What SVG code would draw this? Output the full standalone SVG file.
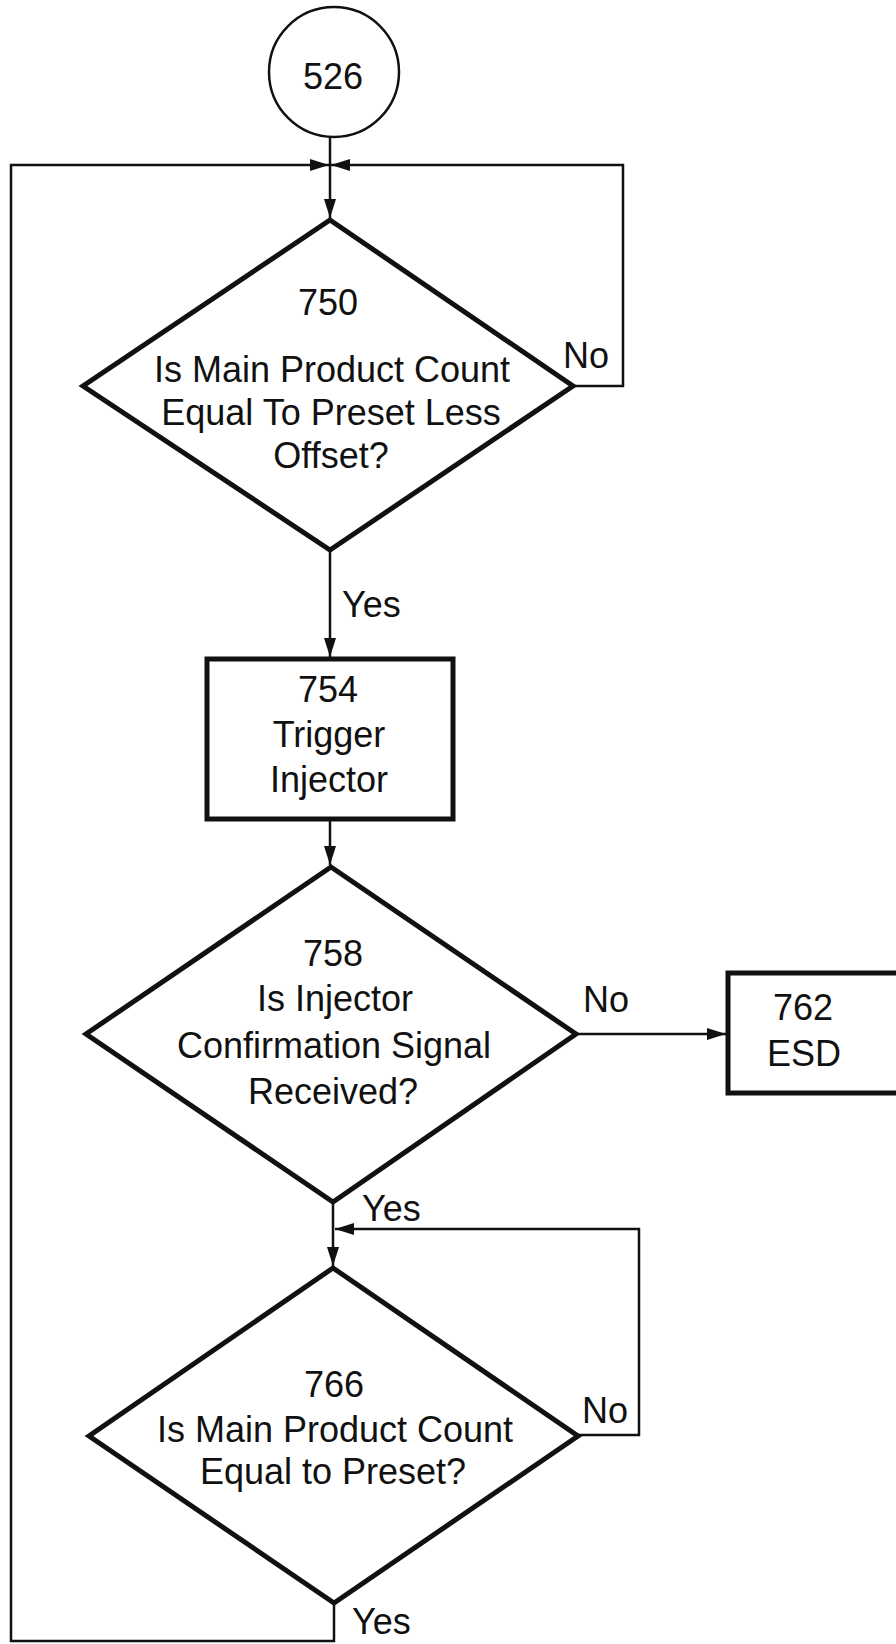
<svg xmlns="http://www.w3.org/2000/svg" width="896" height="1644" viewBox="0 0 896 1644">
  <style>
    .shape { fill: #fff; stroke: #111; stroke-width: 5; stroke-linejoin: miter; }
    .circ { fill: #fff; stroke: #111; stroke-width: 2.5; }
    .conn { fill: none; stroke: #111; stroke-width: 2.5; }
    text { font-family: "Liberation Sans", Arial, sans-serif; font-size: 36px; fill: #111; }
    .c { text-anchor: middle; }
  </style>
  <defs>
    <marker id="arrow" markerUnits="userSpaceOnUse" markerWidth="19" markerHeight="12" refX="19" refY="6" orient="auto">
      <path d="M0,0 L19,6 L0,12 z" fill="#111"/>
    </marker>
  </defs>
  <rect width="896" height="1644" fill="#fff"/>

  <g id="connectors">
    <path class="conn" d="M330,137 V218" marker-end="url(#arrow)"/>
    <path class="conn" d="M334,1603 V1641 H11 V165 H329" marker-end="url(#arrow)"/>
    <path class="conn" d="M573,386 H623 V165 H331" marker-end="url(#arrow)"/>
    <path class="conn" d="M330,550 V657" marker-end="url(#arrow)"/>
    <path class="conn" d="M330,819 V865" marker-end="url(#arrow)"/>
    <path class="conn" d="M576,1034 H726" marker-end="url(#arrow)"/>
    <path class="conn" d="M333,1202 V1266" marker-end="url(#arrow)"/>
    <path class="conn" d="M578,1435 H639 V1229 H335" marker-end="url(#arrow)"/>
    <text x="563" y="368">No</text>
    <text x="342" y="617">Yes</text>
    <text x="583" y="1012">No</text>
    <text x="362" y="1221">Yes</text>
    <text x="582" y="1423">No</text>
    <text x="352" y="1634">Yes</text>
  </g>

  <g id="n526">
    <circle class="circ" cx="334" cy="72" r="65"/>
    <text class="c" x="333" y="89">526</text>
  </g>

  <g id="n750">
    <polygon class="shape" points="330,220 573,386 330,550 83,386"/>
    <text class="c" x="328" y="315">750</text>
    <text class="c" x="332" y="382">Is Main Product Count</text>
    <text class="c" x="331" y="425">Equal To Preset Less</text>
    <text class="c" x="331" y="468">Offset?</text>
  </g>

  <g id="n754">
    <rect class="shape" x="207" y="659" width="246" height="160"/>
    <text class="c" x="328" y="702">754</text>
    <text class="c" x="329" y="747">Trigger</text>
    <text class="c" x="329" y="792">Injector</text>
  </g>

  <g id="n758">
    <polygon class="shape" points="331,867 576,1034 333,1202 86,1034"/>
    <text class="c" x="333" y="966">758</text>
    <text class="c" x="335" y="1011">Is Injector</text>
    <text class="c" x="334" y="1058">Confirmation Signal</text>
    <text class="c" x="333" y="1104">Received?</text>
  </g>

  <g id="n762">
    <rect class="shape" x="728" y="973" width="180" height="120"/>
    <text class="c" x="803" y="1020">762</text>
    <text class="c" x="804" y="1066">ESD</text>
  </g>

  <g id="n766">
    <polygon class="shape" points="333,1268 578,1436 334,1603 89,1436"/>
    <text class="c" x="334" y="1397">766</text>
    <text class="c" x="335" y="1442">Is Main Product Count</text>
    <text class="c" x="333" y="1484">Equal to Preset?</text>
  </g>
</svg>
